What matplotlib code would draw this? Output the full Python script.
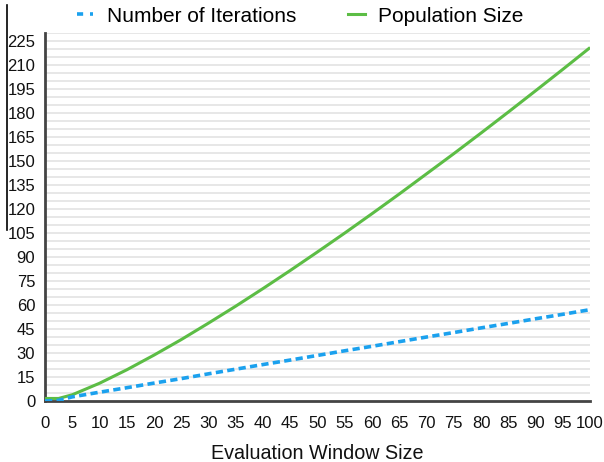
import matplotlib
matplotlib.use('Agg')
import matplotlib.pyplot as plt
from matplotlib.lines import Line2D

plt.rcParams['font.family'] = ['Liberation Sans', 'DejaVu Sans']

window = [0, 2.5, 5, 10, 15, 20, 25, 30, 35, 40, 45, 50, 55, 60, 65, 70, 75, 80, 85, 90, 95, 100]
iterations = [0, 0.4, 2.6, 5.5, 8.3, 11.2, 14.0, 17.0, 19.9, 22.8, 25.6, 28.5, 31.4,
              34.2, 37.1, 40.0, 42.8, 45.7, 48.5, 51.4, 54.2, 57.1]
population = [1.6, 1.6, 3.9, 11.1, 19.5, 28.7, 38.4, 48.7, 59.3, 70.3, 81.6, 93.2, 105.0,
              117.1, 129.4, 142.0, 154.6, 167.5, 180.6, 193.9, 207.3, 220.9]
xticks = list(range(0, 101, 5))
yticks = list(range(0, 226, 15))

blue = '#1ba1ee'
green = '#5cbd45'

fig = plt.figure(figsize=(6.04, 4.62), dpi=100)
ax = fig.add_axes([0.0745, 0.132, 0.9025, 0.7966])

# light grid every 5 units
for g in range(5, 231, 5):
    ax.axhline(g, color='#e3e3e3', lw=1.2, zorder=0)

ax.plot(window, population, color=green, lw=2.2, solid_capstyle='butt', label='Population Size', zorder=3)
ax.plot(window, iterations, color=blue, lw=2.6, dashes=(2.0, 1.2), label='Number of Iterations', zorder=4)

ax.set_xlim(0, 100)
ax.set_ylim(0, 230)
ax.set_xticks(xticks)
ax.set_yticks(yticks)
ax.tick_params(length=0, labelsize=12, colors='#111111')
ax.tick_params(axis='y', pad=7)
ax.tick_params(axis='x', pad=11)
for s in ['top', 'right']:
    ax.spines[s].set_visible(False)
for s in ['left', 'bottom']:
    ax.spines[s].set_color('#444444')
    ax.spines[s].set_linewidth(2)

ax.set_xlabel('Evaluation Window Size', fontsize=14.2, color='#111111', labelpad=9)

h_it = Line2D([], [], color=blue, lw=2.6, dashes=(1.7, 1.9))
h_pop = Line2D([], [], color=green, lw=2.2)
fig.legend([h_it, h_pop], ['Number of Iterations', 'Population Size'], ncol=2,
           loc='center', bbox_to_anchor=(0.497, 0.965), frameon=False, fontsize=15,
           handlelength=0.8, handletextpad=0.65, columnspacing=2.5)

# stray vertical rule at the far left
fig.add_artist(Line2D([7 / 604, 7 / 604], [1 - 5 / 462, 1 - 230 / 462], color='black', lw=1.2))

fig.savefig('out.png', dpi=100)
